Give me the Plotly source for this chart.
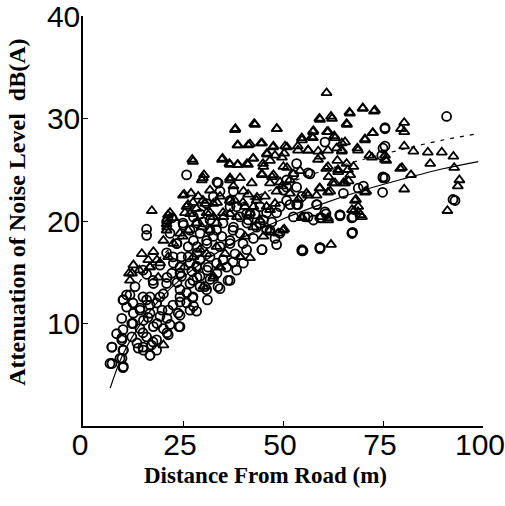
import plotly.graph_objects as go

# ---- data ----
tri_x = [60.9, 69.9, 73.0, 66.6, 62.0, 59.1, 65.9, 80.3, 42.8, 38.1, 48.4, 57.6, 79.5, 80.3, 61.3, 72.4,
         62.8, 57.2, 54.7, 70.5, 38.6, 41.3, 44.5, 47.6, 50.5, 80.3, 82.6, 86.2, 89.7, 64.7, 68.6, 92.6,
         71.6, 75.5, 75.8, 53.7, 56.3, 58.8, 34.9, 36.6, 38.6, 41.0, 42.6, 27.3, 50.3, 46.0, 86.8, 79.3,
         92.8, 82.0, 94.1, 93.7, 80.3, 70.8, 91.1, 59.3, 63.6, 65.9, 67.6, 60.8, 63.8, 66.8, 61.4, 62.4,
         65.1, 59.1, 61.8, 55.9, 68.25, 68.8, 67.8, 69.4, 61.3, 59.3, 54.7, 62.0, 50.3, 52.6, 54.25, 51.75,
         50.1, 46.75, 45.1, 47.6, 44.7, 46.75, 42.2, 40.1, 36.75, 37.6, 29.7, 30.25, 25.3, 27.0, 28.8, 31.75,
         34.25, 32.6, 30.5, 28.4, 26.75, 37.9, 40.5, 43.4, 45.5, 48.0, 45.9, 17.2, 20.9, 22.6, 20.9, 20.1,
         22.6, 24.9, 26.3, 28.4, 29.7, 31.75, 33.4, 35.1, 36.75, 14.7, 17.6, 16.3, 12.6, 11.5, 14.1, 16.75,
         19.25, 21.3, 18.8, 25.3, 27.6, 29.25, 30.9, 33.4, 35.5, 32.6, 34.25, 30.1, 39.25, 40.5, 42.6, 44.25,
         45.1, 46.75, 48.8, 20.1, 39.25, 41.3, 42.6, 25.9, 32.6, 36.75, 51.75, 53.8, 49.7, 48.4, 24.25, 21.75,
         30.9, 58.4, 66.4, 64.7, 63.4,
         21.25, 25.0, 26.25, 25.5, 21.0, 18.5, 16.75, 12.25, 11.75, 32.5, 34.25, 41.75, 39.25, 50.0, 46.75,
         43.5, 40.0, 36.75, 33.5, 30.0, 27.5, 31.75, 35.0, 38.5, 41.75, 38.0, 43.0, 48.5, 38.75, 41.75,
         44.75, 47.5, 51.0, 34.75, 36.75, 38.75, 41.25, 42.5, 46.0, 48.0, 49.75, 45.0, 51.0, 27.5, 30.0,
         36.75, 44.75, 47.25, 49.25, 59.25, 62.25, 66.75, 70.0, 72.75, 66.0, 57.5, 61.0, 57.5, 54.75, 63.0,
         72.5, 70.5, 65.5, 61.25, 64.75, 68.75, 56.25, 53.75, 58.75, 72.25, 75.5, 79.75, 61.25, 63.75, 66.25,
         56.25, 59.25, 61.25, 63.0, 65.5, 70.5, 68.0, 67.25, 68.75, 69.75, 54.75, 61.25]
tri_y = [32.5, 31.0, 30.8, 30.6, 30.2, 30.0, 29.5, 29.6, 29.5, 29.0, 29.0, 28.8, 29.0, 28.7, 28.7, 28.6,
         28.3, 28.2, 28.1, 28.0, 27.4, 27.4, 27.6, 27.3, 27.3, 27.3, 26.8, 26.7, 26.7, 27.6, 27.1, 26.3,
         26.4, 26.4, 25.9, 27.3, 26.9, 26.8, 26.1, 25.6, 25.5, 25.6, 26.1, 26.0, 26.6, 26.5, 25.6, 25.1,
         25.2, 24.5, 24.0, 23.4, 23.1, 22.9, 21.0, 26.3, 25.9, 25.6, 25.3, 25.1, 24.8, 24.5, 24.3, 23.7,
         23.7, 23.2, 22.9, 22.7, 22.1, 21.4, 21.0, 20.6, 20.1, 20.4, 20.4, 17.7, 19.2, 24.6, 24.9, 24.0,
         25.3, 25.9, 25.3, 24.5, 24.6, 23.7, 23.7, 22.9, 24.0, 23.4, 24.0, 24.5, 22.6, 22.7, 22.4, 23.0,
         22.4, 21.7, 21.7, 21.2, 20.7, 22.0, 21.4, 22.0, 22.4, 21.7, 21.4, 21.0, 19.7, 20.3, 19.1, 18.1,
         17.8, 18.5, 19.1, 19.8, 19.4, 19.1, 19.8, 20.4, 20.7, 16.8, 17.0, 16.2, 15.7, 14.9, 15.2, 15.5,
         15.9, 16.5, 14.5, 15.5, 16.5, 17.2, 16.8, 17.5, 16.8, 14.6, 15.5, 13.6, 16.5, 18.5, 19.4, 20.1,
         18.5, 19.1, 18.8, 7.9, 24.2, 22.6, 21.4, 21.4, 20.4, 22.0, 22.7, 22.1, 23.4, 22.9, 18.8, 20.8,
         20.8, 22.5, 23.9, 26.8, 27.1,
         20.6, 22.5, 21.6, 20.8, 19.4, 16.2, 15.5, 14.9, 14.2, 14.4, 15.5, 16.4, 16.5, 19.1, 21.1,
         22.3, 21.8, 22.0, 21.8, 22.0, 21.8, 20.8, 20.8, 20.4, 20.8, 28.9, 29.4, 29.0, 27.4, 27.5,
         27.6, 27.2, 27.2, 26.0, 25.5, 25.5, 25.5, 26.1, 26.6, 26.4, 26.2, 25.6, 25.2, 25.8, 24.2,
         24.2, 24.5, 24.3, 23.8, 29.9, 30.0, 30.5, 31.0, 30.7, 29.4, 28.7, 28.7, 28.1, 27.9, 28.1,
         28.6, 27.9, 27.7, 26.9, 26.9, 26.9, 26.9, 26.9, 26.0, 26.2, 26.0, 25.2, 25.3, 25.0, 25.0,
         22.5, 23.2, 22.8, 23.7, 23.7, 22.8, 22.0, 21.1, 20.9, 20.4, 20.3, 20.3]

circ_x = [90.9, 75.5, 75.5, 74.7, 75.5, 74.9, 93.0, 92.5, 75.0, 67.25, 64.25, 59.25, 55.0, 60.5, 68.8, 65.1,
          64.25, 67.2, 67.4, 59.25, 54.7, 57.6, 59.7, 60.75, 58.4, 55.5, 52.6, 53.4, 50.9, 50.1, 53.4, 56.75,
          48.4, 47.2, 45.9, 48.0, 48.4, 44.75, 42.6, 43.4, 41.3, 40.9, 39.25, 38.4, 36.75, 37.6, 39.25, 40.9,
          40.1, 38.4, 36.75, 34.25, 31.1, 28.4, 27.4, 26.75, 29.25, 31.3, 33.4, 34.7, 33.4, 32.6, 30.9, 29.25,
          27.6, 26.3, 24.6, 24.25, 24.6, 24.25, 24.25, 23.8, 24.0, 21.3, 18.4, 16.75, 15.1, 13.8, 15.9, 14.25,
          12.2, 12.2, 10.9, 10.1, 9.7, 8.4, 9.7, 7.2, 10.1, 9.25, 6.75, 10.1, 14.25, 15.9, 16.75, 15.1,
          17.6, 15.9, 15.9, 15.9, 16.75, 18.4, 20.1, 19.25, 17.6, 20.1, 21.3, 20.9, 22.2, 22.6, 20.9, 21.75,
          20.9, 22.2, 23.4, 25.9, 25.1, 26.3, 27.2, 29.25, 31.75, 35.9, 35.1, 38.0, 36.75, 33.8, 34.25, 32.6,
          30.9, 29.25, 27.6, 30.1, 31.75, 37.6, 36.75, 41.75, 43.0, 44.25, 45.1, 45.9, 49.25, 51.75, 53.4, 50.9,
          54.7, 50.9, 70.1, 52.6, 29.25, 28.4, 30.9, 25.9, 25.9, 27.6, 13.0, 12.6, 10.9, 18.4, 17.1, 75.5,
          10.0, 11.75, 14.25, 12.5, 10.0, 9.75, 7.25, 10.0, 9.75, 7.25, 10.0, 15.0, 16.75, 15.0, 18.5, 21.0,
          21.75, 24.25, 24.25, 16.25, 19.75, 21.0, 22.5, 26.75, 27.5, 24.25, 19.25, 15.0, 12.5, 16.75, 17.5,
          13.5, 25.0, 21.25, 26.75, 15.0, 19.25, 22.5, 21.0, 24.25, 26.75, 27.5, 23.5, 17.5, 28.5, 23.5,
          28.5, 31.75, 35.0, 37.5, 41.0, 44.25, 46.75, 49.25, 44.75, 40.0, 36.75, 34.25, 31.0, 28.5, 31.75,
          35.0, 37.5, 28.5, 31.0, 33.5, 28.5, 36.25, 30.5, 33.75, 33.5, 75.0, 56.25, 75.0,
          58.5, 53.75, 56.25, 59.25, 64.25, 67.5, 60.5, 67.25, 54.75, 59.25]
circ_y = [30.2, 29.0, 27.3, 26.4, 24.2, 22.8, 22.0, 22.1, 24.2, 18.8, 20.6, 17.4, 17.1, 27.7, 23.2, 22.7,
          20.5, 20.3, 18.9, 17.3, 17.1, 20.1, 20.3, 20.7, 21.6, 20.4, 20.4, 21.6, 22.0, 23.0, 25.6, 24.6,
          20.8, 19.9, 19.1, 18.3, 17.7, 17.2, 18.3, 19.4, 20.1, 20.7, 20.4, 21.4, 21.4, 19.4, 18.8, 17.2,
          15.9, 15.2, 14.2, 13.4, 12.3, 11.2, 12.5, 13.9, 14.6, 15.5, 15.9, 18.5, 19.1, 18.5, 18.1, 18.8,
          18.1, 17.5, 16.5, 15.5, 14.6, 13.3, 12.1, 11.0, 9.7, 8.9, 8.4, 6.9, 7.4, 7.6, 8.7, 9.5,
          8.7, 10.0, 12.8, 12.3, 10.5, 9.0, 8.4, 7.7, 7.4, 6.6, 6.1, 5.8, 11.5, 12.3, 11.0, 10.3,
          13.9, 14.8, 18.6, 19.2, 12.6, 12.0, 12.9, 10.7, 9.7, 9.5, 11.3, 13.9, 14.9, 15.9, 16.9, 18.8,
          19.9, 20.3, 17.8, 24.5, 19.6, 16.5, 15.1, 13.6, 14.3, 15.5, 16.2, 16.8, 17.8, 23.7, 22.9, 22.4,
          21.7, 20.7, 20.4, 19.9, 20.1, 22.9, 22.0, 20.7, 20.7, 21.4, 20.1, 20.8, 21.4, 21.6, 23.3, 23.3,
          22.4, 24.0, 23.4, 24.5, 16.2, 15.6, 13.3, 13.0, 12.0, 11.7, 13.6, 11.0, 11.6, 7.4, 7.9, 29.1,
          12.3, 12.8, 11.3, 10.0, 9.4, 8.6, 7.7, 7.4, 6.6, 6.1, 5.7, 7.7, 6.9, 9.1, 10.0, 9.1,
          9.9, 10.8, 9.7, 10.6, 11.3, 10.5, 11.8, 11.3, 12.6, 12.6, 12.6, 12.6, 12.0, 11.8, 8.2,
          8.1, 19.8, 20.1, 19.1, 15.2, 15.7, 16.5, 14.5, 14.9, 15.9, 14.2, 14.0, 14.2, 17.5, 17.8,
          19.8, 19.1, 19.8, 19.1, 19.8, 19.8, 19.1, 18.8, 17.2, 17.8, 18.1, 17.5, 17.8, 16.9, 16.5,
          16.2, 16.0, 15.5, 15.2, 14.9, 14.5, 14.2, 13.6, 13.6, 23.8, 27.1, 24.7, 24.3,
          21.6, 21.6, 20.4, 20.3, 20.6, 20.4, 20.9, 18.8, 17.2, 17.4]

# regression curves
solid_x = [6.8, 10, 15, 20, 25, 30, 40, 50, 60, 70, 80, 90, 98.8]
solid_y = [3.7, 7.0, 10.3, 12.7, 14.5, 16.0, 18.4, 20.2, 21.7, 23.0, 24.1, 25.1, 25.8]
dash_x = [14, 20, 30, 40, 50, 60, 70, 80, 90, 98.5]
dash_y = [14.0, 16.7, 19.7, 21.8, 23.5, 24.9, 26.0, 27.0, 27.9, 28.5]

x_ticks = [0, 25, 50, 75, 100]
y_ticks = [10, 20, 30, 40]

fig = go.Figure()
fig.add_trace(go.Scatter(x=solid_x, y=solid_y, mode="lines", line=dict(color="black", width=1.2, shape="spline"),
                         hoverinfo="skip"))
fig.add_trace(go.Scatter(x=dash_x, y=dash_y, mode="lines",
                         line=dict(color="black", width=1.2, dash="4px,6px", shape="spline"), hoverinfo="skip"))
fig.add_trace(go.Scatter(x=circ_x, y=circ_y, mode="markers", name="circle",
                         marker=dict(symbol="circle-open", size=9, color="black", line=dict(width=1.8))))
fig.add_trace(go.Scatter(x=tri_x, y=tri_y, mode="markers", name="triangle",
                         marker=dict(symbol="triangle-up-open", size=9, color="black", line=dict(width=1.8))))

tick_font = dict(family="Liberation Sans, Arial", size=30, color="black")
fig.update_layout(
    width=505, height=506, showlegend=False,
    paper_bgcolor="white", plot_bgcolor="white",
    margin=dict(l=83, r=22, t=16, b=80),
    xaxis=dict(range=[0, 100], tickvals=x_ticks, ticktext=[str(v) for v in x_ticks], automargin=False,
               showgrid=False, zeroline=False, showline=True, linecolor="black", linewidth=1.5,
               ticks="inside", ticklen=5, tickcolor="black", tickwidth=1.2, tickfont=tick_font,
               ticklabeloverflow="allow", ticklabelstandoff=-9, ticklabelshift=-3),
    yaxis=dict(range=[0, 40], tickvals=y_ticks, ticktext=[str(v) for v in y_ticks], automargin=False,
               showgrid=False, zeroline=False, showline=True, linecolor="black", linewidth=1.5,
               ticks="inside", ticklen=5, tickcolor="black", tickwidth=1.2, tickfont=tick_font,
               ticklabeloverflow="allow", ticklabelstandoff=-5),
    annotations=[
        dict(text="<b>Distance From Road (m)</b>", x=0.455, y=-0.12, xref="paper", yref="paper",
             xanchor="center", yanchor="middle", showarrow=False,
             font=dict(family="Liberation Serif, Times New Roman", size=23, color="black")),
        dict(text="<b>Attenuation of Noise Level  dB(A)</b>", x=-0.165, y=0.52, xref="paper", yref="paper",
             xanchor="center", yanchor="middle", showarrow=False, textangle=-90,
             font=dict(family="Liberation Serif, Times New Roman", size=24, color="black")),
    ],
)

fig.write_html("out.html", config={"displayModeBar": False},
               post_script="document.body.style.margin='0px';")
